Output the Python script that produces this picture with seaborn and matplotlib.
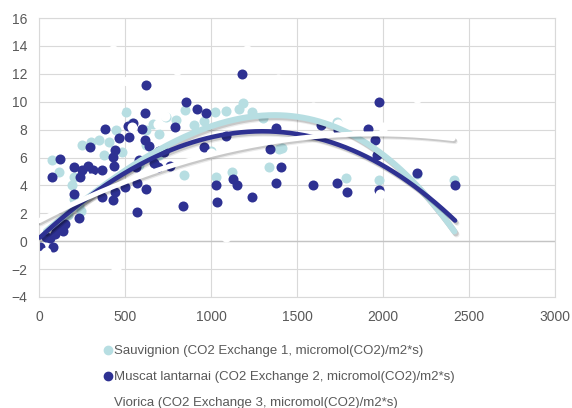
import numpy as np
import matplotlib
matplotlib.use("Agg")
import matplotlib.pyplot as plt
import matplotlib.patheffects as pe
from matplotlib.lines import Line2D
import seaborn as sns

labels = ["Sauvignion (CO2 Exchange 1, micromol(CO2)/m2*s)",
          "Muscat lantarnai (CO2 Exchange 2, micromol(CO2)/m2*s)",
          "Viorica (CO2 Exchange 3, micromol(CO2)/m2*s)"]

sauv_x = [40, 77, 116, 203, 194, 233, 203, 242, 252, 300,
          349, 378, 407, 446, 504, 540, 581, 620, 660, 700,
          736, 794, 851, 900, 960, 1023, 1085, 1163, 1184, 1240,
          1300, 843, 1027, 1124, 1337, 1395, 1411, 1730, 1785, 1979,
          2196, 2415, 130, 170, 700, 1000, 620, 480]
sauv_y = [0.3, 5.8, 4.97, 4.6, 4.0, 2.6, 3.06, 2.2, 6.88, 7.12,
          7.24, 6.16, 7.12, 7.96, 9.27, 8.5, 5.45, 8.0, 8.4, 7.7,
          8.9, 8.67, 9.4, 8.3, 8.6, 9.25, 9.3, 9.5, 9.93, 9.27,
          8.8, 4.73, 4.6, 4.97, 5.33, 6.6, 6.65, 8.57, 4.5, 4.37,
          4.8, 4.37, 1.2, 1.9, 6.2, 6.5, 6.9, 6.4]

musc_x = [5, 40, 64, 83, 93, 100, 112, 122, 140, 150,
          74, 122, 203, 248, 316, 364, 238, 203, 364, 432,
          442, 500, 568, 620, 568, 234, 839, 1033, 1029, 1130,
          1149, 1236, 1376, 1405, 1180, 620, 853, 918, 971, 616,
          386, 516, 545, 601, 525, 463, 297, 431, 791, 1085,
          1376, 1343, 959, 616, 442, 285, 436, 640, 690, 760,
          580, 700, 1595, 1730, 1788, 1979, 2196, 2419, 1977, 1915,
          1638, 1741, 1953, 1963, 669, 727, 562]
musc_y = [-0.4, 0.3, 0.2, -0.4, 0.55, 0.9, 1.0, 1.4, 0.7, 1.2,
          4.6, 5.9, 5.3, 5.1, 5.1, 5.1, 4.6, 3.35, 3.2, 2.95,
          3.5, 3.9, 4.2, 3.75, 2.1, 1.65, 2.5, 2.8, 4.05, 4.45,
          4.05, 3.2, 4.18, 5.35, 12.0, 11.2, 9.95, 9.5, 9.2, 9.2,
          8.07, 8.25, 8.45, 8.07, 7.48, 7.43, 6.76, 6.04, 8.2, 7.55,
          8.15, 6.6, 6.75, 7.24, 6.57, 5.4, 5.4, 6.8, 5.3, 5.4,
          5.8, 6.5, 4.06, 4.2, 3.5, 3.65, 4.9, 4.06, 9.95, 8.07,
          8.36, 7.96, 7.24, 6.2, 5.57, 6.4, 5.33]

vior_x = [0, 20, 40, 64, 160, 256, 430, 800, 122, 345,
          510, 670, 1207, 1400, 1160, 1390, 2196, 1595, 1790, 700,
          760, 1090, 1325, 450, 550, 650, 900, 1128, 5, 151,
          1985, 539, 693, 733, 452, 355, 23, 1740, 2000, 2407,
          1000, 300, 1500]
vior_y = [1.5, -1.0, -0.8, 14.9, 14.9, 14.9, 13.7, 12.3, 11.5, 10.7,
          11.5, 10.8, 13.7, 13.2, 11.0, 11.6, 10.3, 9.6, 0.55, 1.0,
          0.6, 0.3, 2.6, -2.0, -1.0, -0.5, 0.5, 1.3, 3.0, 7.36,
          3.4, 8.2, 8.4, 9.0, 9.5, 9.3, 9.2, 8.4, 8.2, 7.0,
          6.3, 4.5, 7.2]

# polynomial trendlines as shown (highest power first)
trend_sauv = [-1.216e-9, -1.342e-6, 0.010498, 0.3]
trend_musc = [-2.332e-10, -3.939e-6, 0.011422, 0.2]
trend_vior = [0.0, -1.64e-6, 0.006396, 1.46]

colors = ["#B7DEE2", "#2E3192", "#FFFFFF"]

sns.set_theme(style="white")
plt.rcParams["font.family"] = ["Liberation Sans", "DejaVu Sans"]

fig = plt.figure(figsize=(5.72, 4.08), dpi=100)
ax = fig.add_axes([39 / 572, 111 / 408, 516 / 572, 279 / 408])

series = [(sauv_x, sauv_y, trend_sauv, 4.3),
          (musc_x, musc_y, trend_musc, 3.3),
          (vior_x, vior_y, trend_vior, 3.6)]

for i, (xs, ys, coef, lw) in enumerate(series):
    sns.scatterplot(x=xs, y=ys, color=colors[i], s=52, linewidth=0,
                    ax=ax, zorder=2 + i * 0.1, legend=False)

# soft drop shadow under each trendline
shadow = [pe.SimpleLineShadow(offset=(1.6, -2.2), shadow_color="#000000", alpha=0.08),
          pe.SimpleLineShadow(offset=(1.0, -1.4), shadow_color="#000000", alpha=0.15),
          pe.Normal()]

for i, (xs, ys, coef, lw) in enumerate(series):
    tx = np.linspace(min(xs), max(xs), 300)
    ty = np.polyval(coef, tx)
    sns.lineplot(x=tx, y=ty, color=colors[i], lw=lw, ax=ax, zorder=3 + i * 0.1,
                 sort=False, estimator=None, path_effects=shadow)

ax.set_xlim(0, 3000)
ax.set_ylim(-4, 16)
ax.set_xticks(np.arange(0, 3001, 500))
ax.set_yticks(np.arange(-4, 17, 2))
ax.set_axisbelow(True)
ax.grid(True, color="#D9D9D9", lw=0.8)
ax.axhline(0, color="#C4C4C4", lw=1.0, zorder=1)
for sp in ax.spines.values():
    sp.set_color("#D9D9D9")
    sp.set_linewidth(0.8)
ax.tick_params(axis="both", length=0, labelsize=10, labelcolor="#595959")
ax.tick_params(axis="y", pad=8.5)
ax.tick_params(axis="x", pad=9.4)

handles = [Line2D([], [], ls="", marker="o", markersize=6, color=c,
                  markeredgecolor=c) for c in colors]
fig.legend(handles, labels, loc="upper left",
           bbox_to_anchor=(103.8 / 572, (408 - 345) / 408),
           frameon=False, fontsize=9.5, handlelength=0.6, handletextpad=0.2,
           labelspacing=1.05, borderpad=0, borderaxespad=0, labelcolor="#595959")

fig.savefig("out.png", dpi=100)
